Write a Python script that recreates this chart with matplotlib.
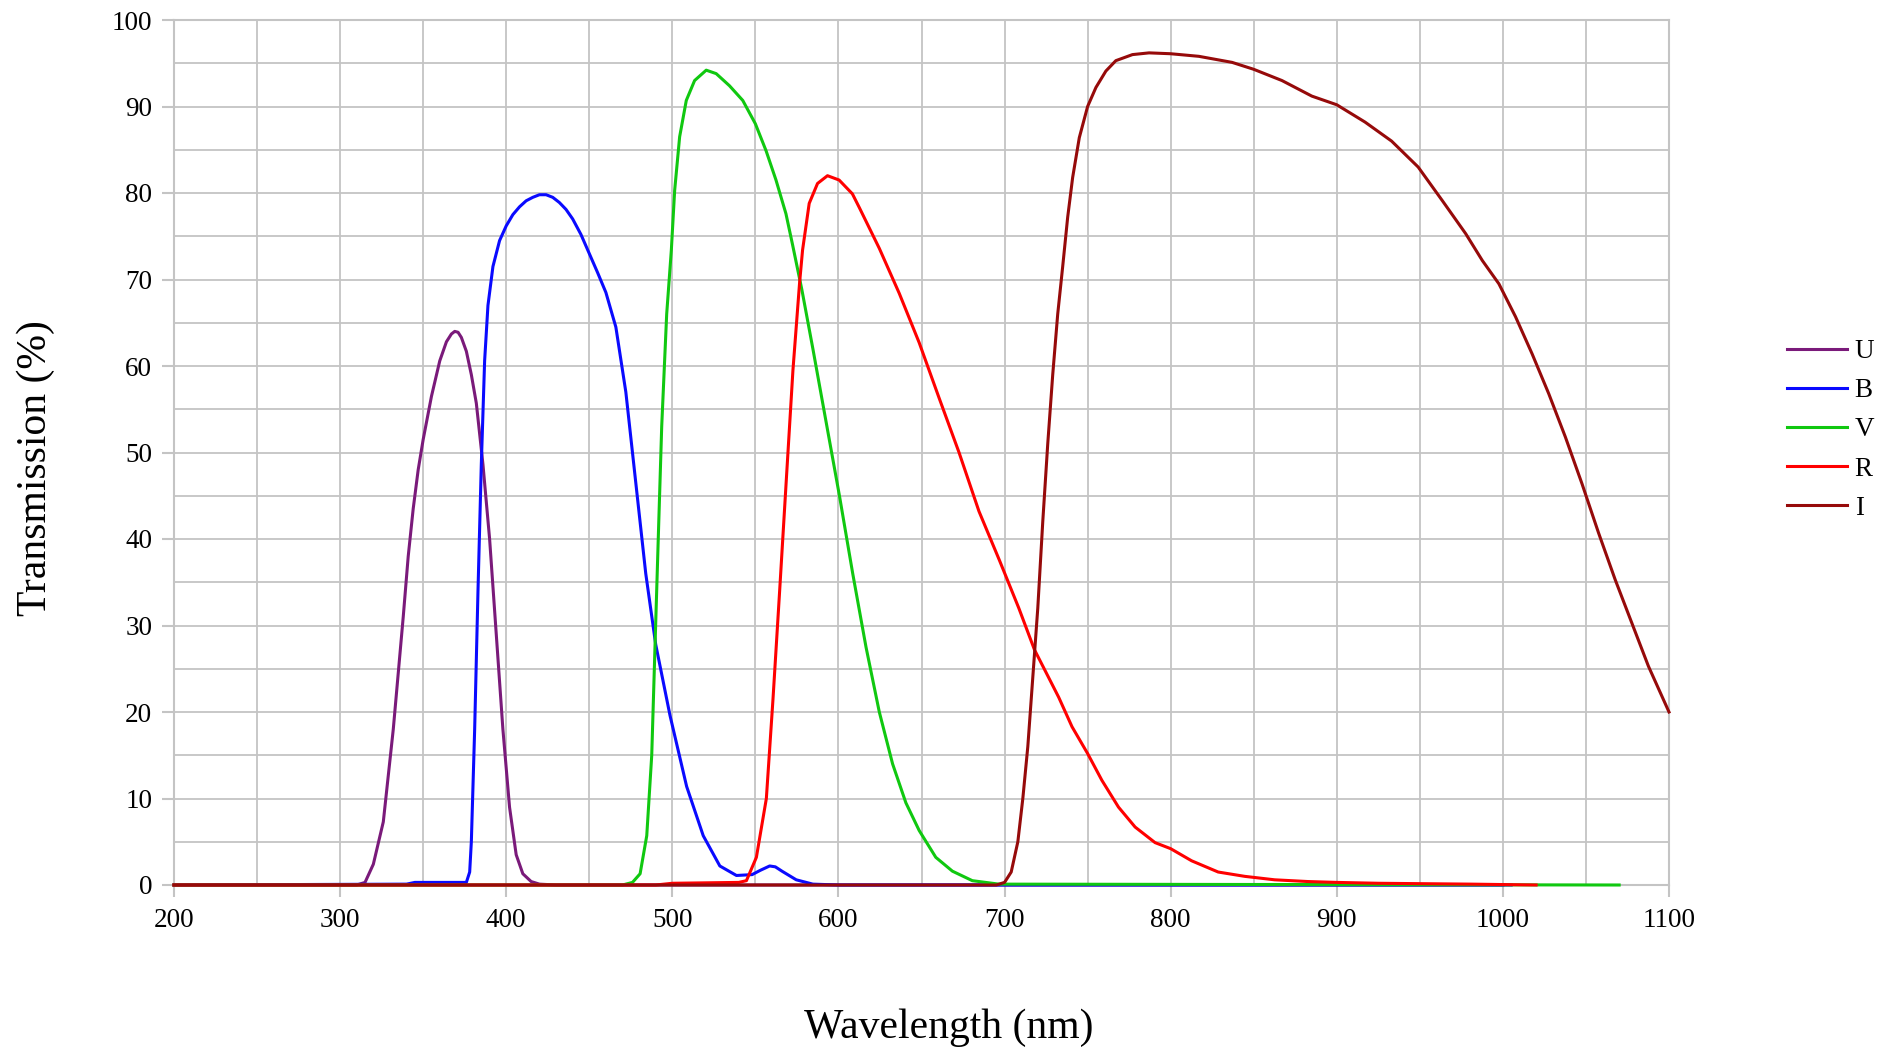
import matplotlib
matplotlib.use("Agg")
import matplotlib.pyplot as plt
from matplotlib.ticker import MultipleLocator

plt.rcParams['font.family'] = ['Liberation Serif', 'DejaVu Serif']

# Filter transmission curves, wavelength (nm) vs transmission (%)
u_nm = [200, 310, 315, 320, 326, 332, 338, 341, 344, 347, 350, 355, 360, 364, 367, 369, 371, 373, 376, 379, 382, 386, 390, 394, 398,
        402, 406, 410, 415, 420, 430, 1000]
u_tr = [0, 0, 0.3, 2.4, 7.3, 18, 31, 38, 43.5, 48, 51.5, 56.5, 60.6, 62.8, 63.7, 64, 63.9, 63.3, 61.7, 59, 55.7, 48.6, 40, 29, 18,
        9, 3.5, 1.3, 0.4, 0.1, 0, 0]

b_nm = [200, 340, 345, 376, 378, 379, 381, 383, 385, 387, 389, 392, 396, 400, 404, 408, 412, 416, 420, 424, 428, 432, 436, 440, 445,
        450, 455, 460, 466, 472, 478, 484, 490, 498.6, 508.6, 518.6, 528.6, 538.6, 548, 553, 558.6, 562, 566, 574.6, 584.6, 600, 1005]
b_tr = [0, 0.1, 0.3, 0.3, 1.5, 5, 18, 34, 48.6, 60.6, 67, 71.5, 74.5, 76.2, 77.5, 78.4, 79.1, 79.5, 79.8, 79.8, 79.5, 78.9, 78.1, 77, 75.2,
        73, 70.8, 68.5, 64.5, 57, 46.5, 36, 27.8, 19.6, 11.4, 5.7, 2.2, 1.1, 1.2, 1.7, 2.2, 2.1, 1.6, 0.6, 0.1, 0, 0]

v_nm = [200, 470, 476, 480.6, 484.6, 487.6, 489.6, 491.6, 493.6, 496.6, 499.4, 501.4, 504.4, 508.4, 513.4, 520.4, 526.4, 534.4, 542.4,
        550, 556.4, 562.4, 568.4, 572.4, 578, 584.6, 592.6, 600.6, 608.6, 616.6, 624.6, 632.6, 640.6, 648.6, 658.6, 668.6, 680.6, 696.6, 1070]
v_tr = [0, 0, 0.3, 1.3, 5.7, 15, 27.8, 40.5, 53, 66, 73.4, 80.3, 86.5, 90.7, 93, 94.2, 93.8, 92.4, 90.7,
        88, 84.9, 81.5, 77.6, 74, 68.8, 62, 53.5, 45, 36, 27.5, 20, 14, 9.5, 6.3, 3.2, 1.6, 0.5, 0.1, 0]

r_nm = [200, 490, 500, 540, 544.6, 550.6, 556.6, 560.6, 564.6, 568.6, 572.6, 576.6, 578.4, 582.4, 587.4, 593.4, 600.4, 608.4, 612.6,
        624.6, 636.6, 648.6, 660.6, 672.6, 684.6, 697, 708.6, 718, 732.6, 740.6, 750, 758.6, 768.6, 778.6, 790.6, 800, 812.6, 828.6, 844.6,
        862.6, 882.6, 900, 925, 981, 1020]
r_tr = [0, 0, 0.2, 0.3, 0.5, 3.2, 10, 21.5, 34, 46.8, 59.5, 69.6, 73.4, 78.8, 81.1, 82, 81.5, 79.9, 78.3,
        73.6, 68.4, 62.7, 56.3, 50, 43.2, 37.5, 32, 27.2, 21.7, 18.3, 15.2, 12.1, 9, 6.7, 4.9, 4.2, 2.8, 1.5, 1.0,
        0.6, 0.4, 0.3, 0.2, 0.1, 0]

i_nm = [200, 695, 700, 704, 708, 711, 714, 717, 720, 723, 726, 729, 732, 735, 738, 741, 745, 750, 755, 761, 767, 777, 787, 800,
        817, 837, 850, 867, 885, 900, 917, 933, 949, 963.6, 977.6, 987.6, 997.6, 1007.6, 1017.6, 1027.6, 1037.6, 1047.6, 1057.6,
        1067.6, 1077.6, 1087.6, 1100]
i_tr = [0, 0, 0.3, 1.5, 5, 10, 16, 24, 32, 42, 51, 59, 66, 71.5, 77.2, 81.8, 86.4, 90, 92.2, 94.1, 95.3, 96, 96.2, 96.1,
        95.8, 95.1, 94.3, 93, 91.2, 90.2, 88.2, 86, 83, 79.1, 75.3, 72.2, 69.5, 65.7, 61.4, 56.8, 51.8, 46.4, 40.7,
        35.3, 30.3, 25.3, 20]

series = [("U", u_nm, u_tr, "#7a1a7a"),
          ("B", b_nm, b_tr, "#0a0aff"),
          ("V", v_nm, v_tr, "#10c810"),
          ("R", r_nm, r_tr, "#ff0000"),
          ("I", i_nm, i_tr, "#960a0a")]

fig = plt.figure(figsize=(18.98, 10.52), dpi=100)
ax = fig.add_axes([174 / 1898, 1 - 885 / 1052, (1669 - 174) / 1898, (885 - 20) / 1052])

for name, x, y, col in series:
    ax.plot(x, y, color=col, linewidth=2.2, label=name, zorder=3, clip_on=False)

ax.set_xlim(200, 1100)
ax.set_ylim(0, 100)
ax.xaxis.set_major_locator(MultipleLocator(100))
ax.xaxis.set_minor_locator(MultipleLocator(50))
ax.yaxis.set_major_locator(MultipleLocator(10))
ax.yaxis.set_minor_locator(MultipleLocator(5))

grid_col = "#c4c4c4"
ax.grid(which="both", color=grid_col, linewidth=1.3)
ax.set_axisbelow(True)
for s in ax.spines.values():
    s.set_color(grid_col)
    s.set_linewidth(1.5)

ax.tick_params(which="major", direction="out", length=8.6, width=1.5, color=grid_col,
               labelsize=19.5, labelcolor="black")
ax.tick_params(axis="x", which="major", pad=8)
ax.tick_params(axis="y", which="major", pad=7)
ax.tick_params(which="minor", length=0)

fig.text(0.5, 1 - 1028 / 1052, "Wavelength (nm)", fontsize=30, ha="center", va="center")
fig.text(36 / 1898, 1 - 468 / 1052, "Transmission (%)", fontsize=30, rotation=90, ha="center", va="center")

ax.legend(loc="center left", bbox_to_anchor=(1787 / 1898, 1 - 430 / 1052), bbox_transform=fig.transFigure,
          frameon=False, fontsize=19.5, handlelength=2.2, handletextpad=0.3, labelspacing=0.52,
          borderpad=0, borderaxespad=0)

fig.savefig("out.png", dpi=100)
